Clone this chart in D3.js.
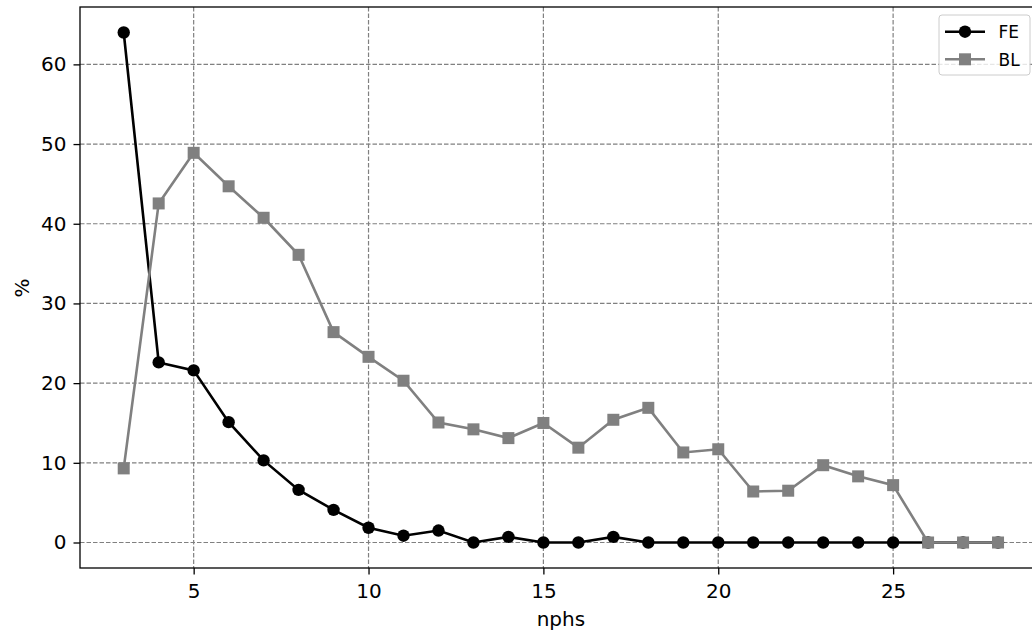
<!DOCTYPE html>
<html><head><meta charset="utf-8">
<script src="https://cdn.jsdelivr.net/npm/d3@7"></script>
<style>body{margin:0;background:#fff}svg{display:block;font-family:"DejaVu Sans",sans-serif}</style>
</head><body>
<svg id="c" width="1032" height="634"></svg>
<script>
const nphs = [3,4,5,6,7,8,9,10,11,12,13,14,15,16,17,18,19,20,21,22,23,24,25,26,27,28];
const feValues = [64.0,22.6,21.6,15.1,10.3,6.6,4.1,1.85,0.85,1.5,0,0.7,0,0,0.7,0,0,0,0,0,0,0,0,0,0,0];
const blValues = [9.3,42.55,48.9,44.7,40.75,36.1,26.4,23.3,20.3,15.06,14.2,13.1,15.0,11.9,15.4,16.9,11.3,11.7,6.4,6.5,9.7,8.3,7.2,0,0,0];
const xTicks = [5,10,15,20,25];
const yTicks = [0,10,20,30,40,50,60];
const seriesNames = ["FE","BL"];

const svg = d3.select("#c");
const L=80, R=1041.75, T=7, B=568;
const x = d3.scaleLinear().domain([1.75,29.25]).range([L,R]);
const y = d3.scaleLinear().domain([-3.2,67.2]).range([B,T]);

svg.append("defs").append("clipPath").attr("id","pc").append("rect")
  .attr("x",L).attr("y",T).attr("width",R-L).attr("height",B-T);

// grid
const grid = svg.append("g").attr("clip-path","url(#pc)");
grid.selectAll(".gx").data(xTicks).join("line")
  .attr("x1",d=>x(d)).attr("x2",d=>x(d)).attr("y1",T).attr("y2",B)
  .attr("stroke","#808080").attr("stroke-width",1.2).attr("stroke-dasharray","4.5,2");
grid.selectAll(".gy").data(yTicks).join("line")
  .attr("x1",L).attr("x2",R).attr("y1",d=>y(d)).attr("y2",d=>y(d))
  .attr("stroke","#808080").attr("stroke-width",1.2).attr("stroke-dasharray","4.5,2");

// axes
const xa = svg.append("g").attr("transform",`translate(0,${B})`)
  .call(d3.axisBottom(x).tickValues(xTicks).tickSize(6.5).tickPadding(9.3).tickFormat(d3.format("d")));
const ya = svg.append("g").attr("transform",`translate(${L},0)`)
  .call(d3.axisLeft(y).tickValues(yTicks).tickSize(6.5).tickPadding(7).tickFormat(d3.format("d")));
[xa,ya].forEach(a=>{
  a.select(".domain").remove();
  a.selectAll(".tick line").attr("stroke","#000").attr("stroke-width",1.3);
  a.selectAll(".tick text").attr("font-size",20).attr("fill","#000").attr("font-family","DejaVu Sans");
});
// spines
svg.append("rect").attr("x",L).attr("y",T).attr("width",R-L).attr("height",B-T)
  .attr("fill","none").attr("stroke","#000").attr("stroke-width",1.3);

// labels
svg.append("text").attr("x",(L+R)/2).attr("y",626).attr("text-anchor","middle")
  .attr("font-size",20).text("nphs");
svg.append("text").attr("transform",`translate(28.5,288) rotate(-90)`).attr("text-anchor","middle")
  .attr("font-size",20).text("%");

const plot = svg.append("g").attr("clip-path","url(#pc)");
const line = d3.line().x((d,i)=>x(nphs[i])).y(d=>y(d));
// FE
plot.append("path").datum(feValues).attr("d",line).attr("fill","none").attr("stroke","#000").attr("stroke-width",2.6);
plot.selectAll(".fe").data(feValues).join("circle").attr("cx",(d,i)=>x(nphs[i])).attr("cy",d=>y(d)).attr("r",6.2).attr("fill","#000");
// BL
plot.append("path").datum(blValues).attr("d",line).attr("fill","none").attr("stroke","#808080").attr("stroke-width",2.6);
const s=12;
plot.selectAll(".bl").data(blValues).join("rect").attr("x",(d,i)=>x(nphs[i])-s/2).attr("y",d=>y(d)-s/2)
  .attr("width",s).attr("height",s).attr("fill","#808080");

// legend
const lg = svg.append("g");
lg.append("rect").attr("x",939).attr("y",15).attr("width",91).attr("height",60).attr("rx",3)
  .attr("fill","#fff").attr("fill-opacity",0.8).attr("stroke","#ccc").attr("stroke-width",1);
const ly=[31.7,59.3], lc=["#000","#808080"];
seriesNames.forEach((n,i)=>{
  lg.append("line").attr("x1",945).attr("x2",985).attr("y1",ly[i]).attr("y2",ly[i]).attr("stroke",lc[i]).attr("stroke-width",2.6);
  if(i===0) lg.append("circle").attr("cx",965).attr("cy",ly[i]).attr("r",6.2).attr("fill",lc[i]);
  else lg.append("rect").attr("x",965-s/2).attr("y",ly[i]-s/2).attr("width",s).attr("height",s).attr("fill",lc[i]);
  lg.append("text").attr("x",998.5).attr("y",ly[i]+6.2).attr("font-size",17).text(n);
});
</script>
</body></html>
